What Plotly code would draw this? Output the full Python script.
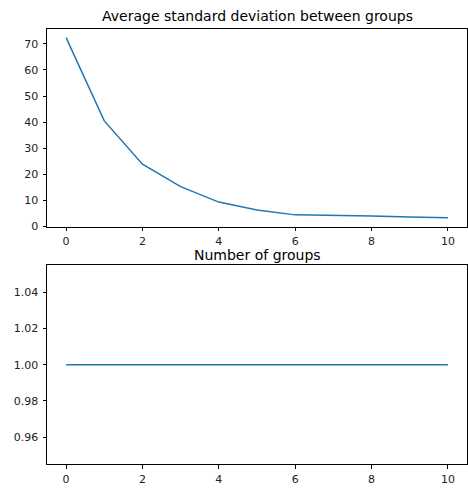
import plotly.graph_objects as go

# Iteration index shared by both panels
steps = [0, 1, 2, 3, 4, 5, 6, 7, 8, 9, 10]
# Average standard deviation between groups per step
avg_std = [72.4, 40.5, 23.9, 15.3, 9.4, 6.4, 4.5, 4.4, 4.1, 3.7, 3.4]
# Number of groups per step
n_groups = [1, 1, 1, 1, 1, 1, 1, 1, 1, 1, 1]

W, H = 468, 496
BLUE = "#1f77b4"
FONT = "DejaVu Sans"

def pad(lo, hi, frac=0.05):
    span = hi - lo
    if span == 0:
        span = abs(lo) if lo else 1.0
        return lo - 0.055 * span, hi + 0.055 * span
    return lo - frac * span, hi + frac * span

fig = go.Figure()
fig.add_trace(go.Scatter(x=steps, y=avg_std, mode="lines",
                         line=dict(color=BLUE, width=1.5),
                         xaxis="x", yaxis="y", showlegend=False))
fig.add_trace(go.Scatter(x=steps, y=n_groups, mode="lines",
                         line=dict(color=BLUE, width=1.5),
                         xaxis="x2", yaxis="y2", showlegend=False))

x_dom = [47 / W, 467 / W]
top_dom = [(H - 230) / H, (H - 29) / H]
bot_dom = [(H - 471) / H, (H - 269) / H]

axis_common = dict(showline=True, linecolor="black", linewidth=1, mirror=True,
                   ticks="outside", ticklen=3.5, tickwidth=1, tickcolor="black",
                   showgrid=False, zeroline=False,
                   tickfont=dict(family=FONT, size=11, color="#222222"))

xr = pad(min(steps), max(steps))
fig.update_layout(
    width=W, height=H,
    margin=dict(l=0, r=0, t=0, b=0),
    paper_bgcolor="white", plot_bgcolor="white",
    xaxis=dict(domain=x_dom, anchor="y", range=list(xr), dtick=2,
               ticklabelstandoff=1, **axis_common),
    yaxis=dict(domain=top_dom, anchor="x", range=list(pad(min(avg_std), max(avg_std))),
               dtick=10, ticklabelstandoff=2, **axis_common),
    xaxis2=dict(domain=x_dom, anchor="y2", range=list(xr), dtick=2,
                ticklabelstandoff=1, **axis_common),
    yaxis2=dict(domain=bot_dom, anchor="x2", range=list(pad(min(n_groups), max(n_groups))),
                tickvals=[0.96, 0.98, 1.00, 1.02, 1.04], tickformat=".2f",
                ticklabelstandoff=2, **axis_common),
    annotations=[
        dict(text="Average standard deviation between groups", x=257 / W, y=(H - 7) / H,
             xref="paper", yref="paper", xanchor="center", yanchor="top", borderpad=0,
             showarrow=False, font=dict(family=FONT, size=14, color="black")),
        dict(text="Number of groups", x=257 / W, y=(H - 250) / H,
             xref="paper", yref="paper", xanchor="center", yanchor="top", borderpad=0,
             showarrow=False, font=dict(family=FONT, size=14, color="black")),
    ],
)

fig.write_html("out.html")
